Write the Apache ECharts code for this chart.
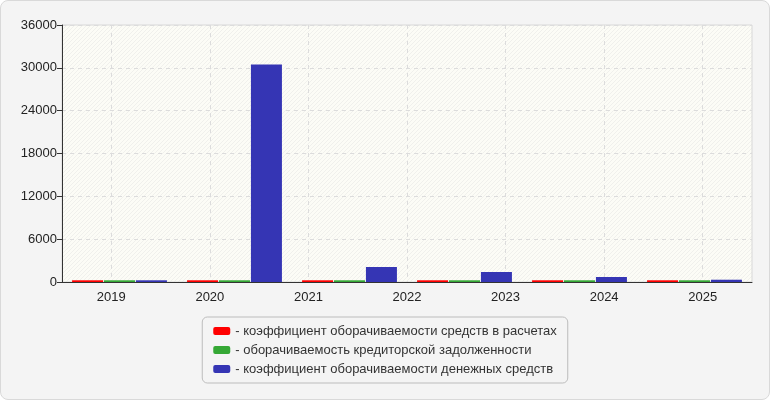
<!DOCTYPE html>
<html>
<head>
<meta charset="utf-8">
<script src="https://cdn.jsdelivr.net/npm/echarts@6/dist/echarts.min.js"></script>
<style>
  html, body { margin: 0; padding: 0; background: #ffffff; }
  #frame { position: absolute; left: 0; top: 0; width: 768px; height: 398px; border: 1px solid #d9d9d9; border-radius: 8px; background: #f4f4f4; }
  #chart { position: absolute; left: 0; top: 0; width: 770px; height: 400px; }
</style>
</head>
<body>
<div id="frame"></div>
<div id="chart"></div>
<script>
// Tick labels on the x axis
var yearLabels = ['2019', '2020', '2021', '2022', '2023', '2024', '2025'];
// Bar groups (six groups drawn across the plot)
var barGroups = ['1', '2', '3', '4', '5', '6'];
// Series names
var seriesNames = [
  'коэффициент оборачиваемости средств в расчетах',
  'оборачиваемость кредиторской задолженности',
  'коэффициент оборачиваемости денежных средств'
];
// Series values
var receivablesTurnover = [240, 240, 240, 240, 240, 240];
var payablesTurnover = [240, 240, 240, 240, 240, 240];
var cashTurnover = [240, 30450, 2100, 1400, 700, 320];
// Y axis
var yMin = 0, yMax = 36000, yStep = 6000;

// hatch pattern for plot background
var pc = document.createElement('canvas');
pc.width = 4; pc.height = 4;
var pctx = pc.getContext('2d');
pctx.fillStyle = '#fcfcf6';
pctx.fillRect(0, 0, 4, 4);
pctx.fillStyle = '#f0f0ec';
for (var i = 0; i < 4; i++) { pctx.fillRect(3 - i, i, 1, 1); }

var font = "'Liberation Sans', Arial, sans-serif";
var colors = ['#ff0000', '#35a835', '#3535b4'];
var chart = echarts.init(document.getElementById('chart'), null, { renderer: 'canvas' });

chart.setOption({
  backgroundColor: 'transparent',
  animation: false,
  grid: {
    left: 62, right: 18, top: 25, bottom: 118,
    show: true,
    backgroundColor: { image: pc, repeat: 'repeat' },
    borderColor: '#d8d8d8',
    borderWidth: 1
  },
  legend: {
    orient: 'vertical',
    left: 'center',
    top: 317,
    padding: [7, 11, 7, 11],
    itemGap: 5,
    itemWidth: 17,
    itemHeight: 8,
    icon: 'roundRect',
    borderColor: '#bcbcbc',
    borderWidth: 1,
    borderRadius: 5,
    backgroundColor: '#f4f4f4',
    formatter: function (n) { return '- ' + n; },
    textStyle: { fontFamily: font, fontSize: 13, color: '#333', lineHeight: 14 },
    data: seriesNames
  },
  xAxis: [
    {
      type: 'category',
      data: yearLabels,
      boundaryGap: true,
      axisLine: { lineStyle: { color: '#333', width: 1 } },
      axisTick: { alignWithLabel: true, length: 5, lineStyle: { color: '#333' } },
      axisLabel: { fontFamily: font, fontSize: 13, color: '#222', margin: 9 },
      splitLine: { show: true, alignWithLabel: true, lineStyle: { color: '#dcdcdc', type: [4, 4] } }
    },
    {
      type: 'category',
      data: barGroups,
      boundaryGap: true,
      show: false
    }
  ],
  yAxis: {
    type: 'value',
    min: yMin, max: yMax, interval: yStep,
    axisLine: { show: true, lineStyle: { color: '#333', width: 1 } },
    axisTick: { show: true, length: 5, lineStyle: { color: '#333' } },
    axisLabel: { fontFamily: font, fontSize: 13, color: '#222', margin: 5, formatter: function (v) { return String(v); } },
    splitLine: { show: true, lineStyle: { color: '#dcdcdc', type: [4, 4] } }
  },
  series: [
    { name: seriesNames[0], type: 'bar', xAxisIndex: 1, data: receivablesTurnover, barWidth: 31, barGap: '3%', itemStyle: { color: colors[0] } },
    { name: seriesNames[1], type: 'bar', xAxisIndex: 1, data: payablesTurnover, barWidth: 31, barGap: '3%', itemStyle: { color: colors[1] } },
    { name: seriesNames[2], type: 'bar', xAxisIndex: 1, data: cashTurnover, barWidth: 31, barGap: '3%', itemStyle: { color: colors[2] } }
  ]
});
</script>
</body>
</html>
